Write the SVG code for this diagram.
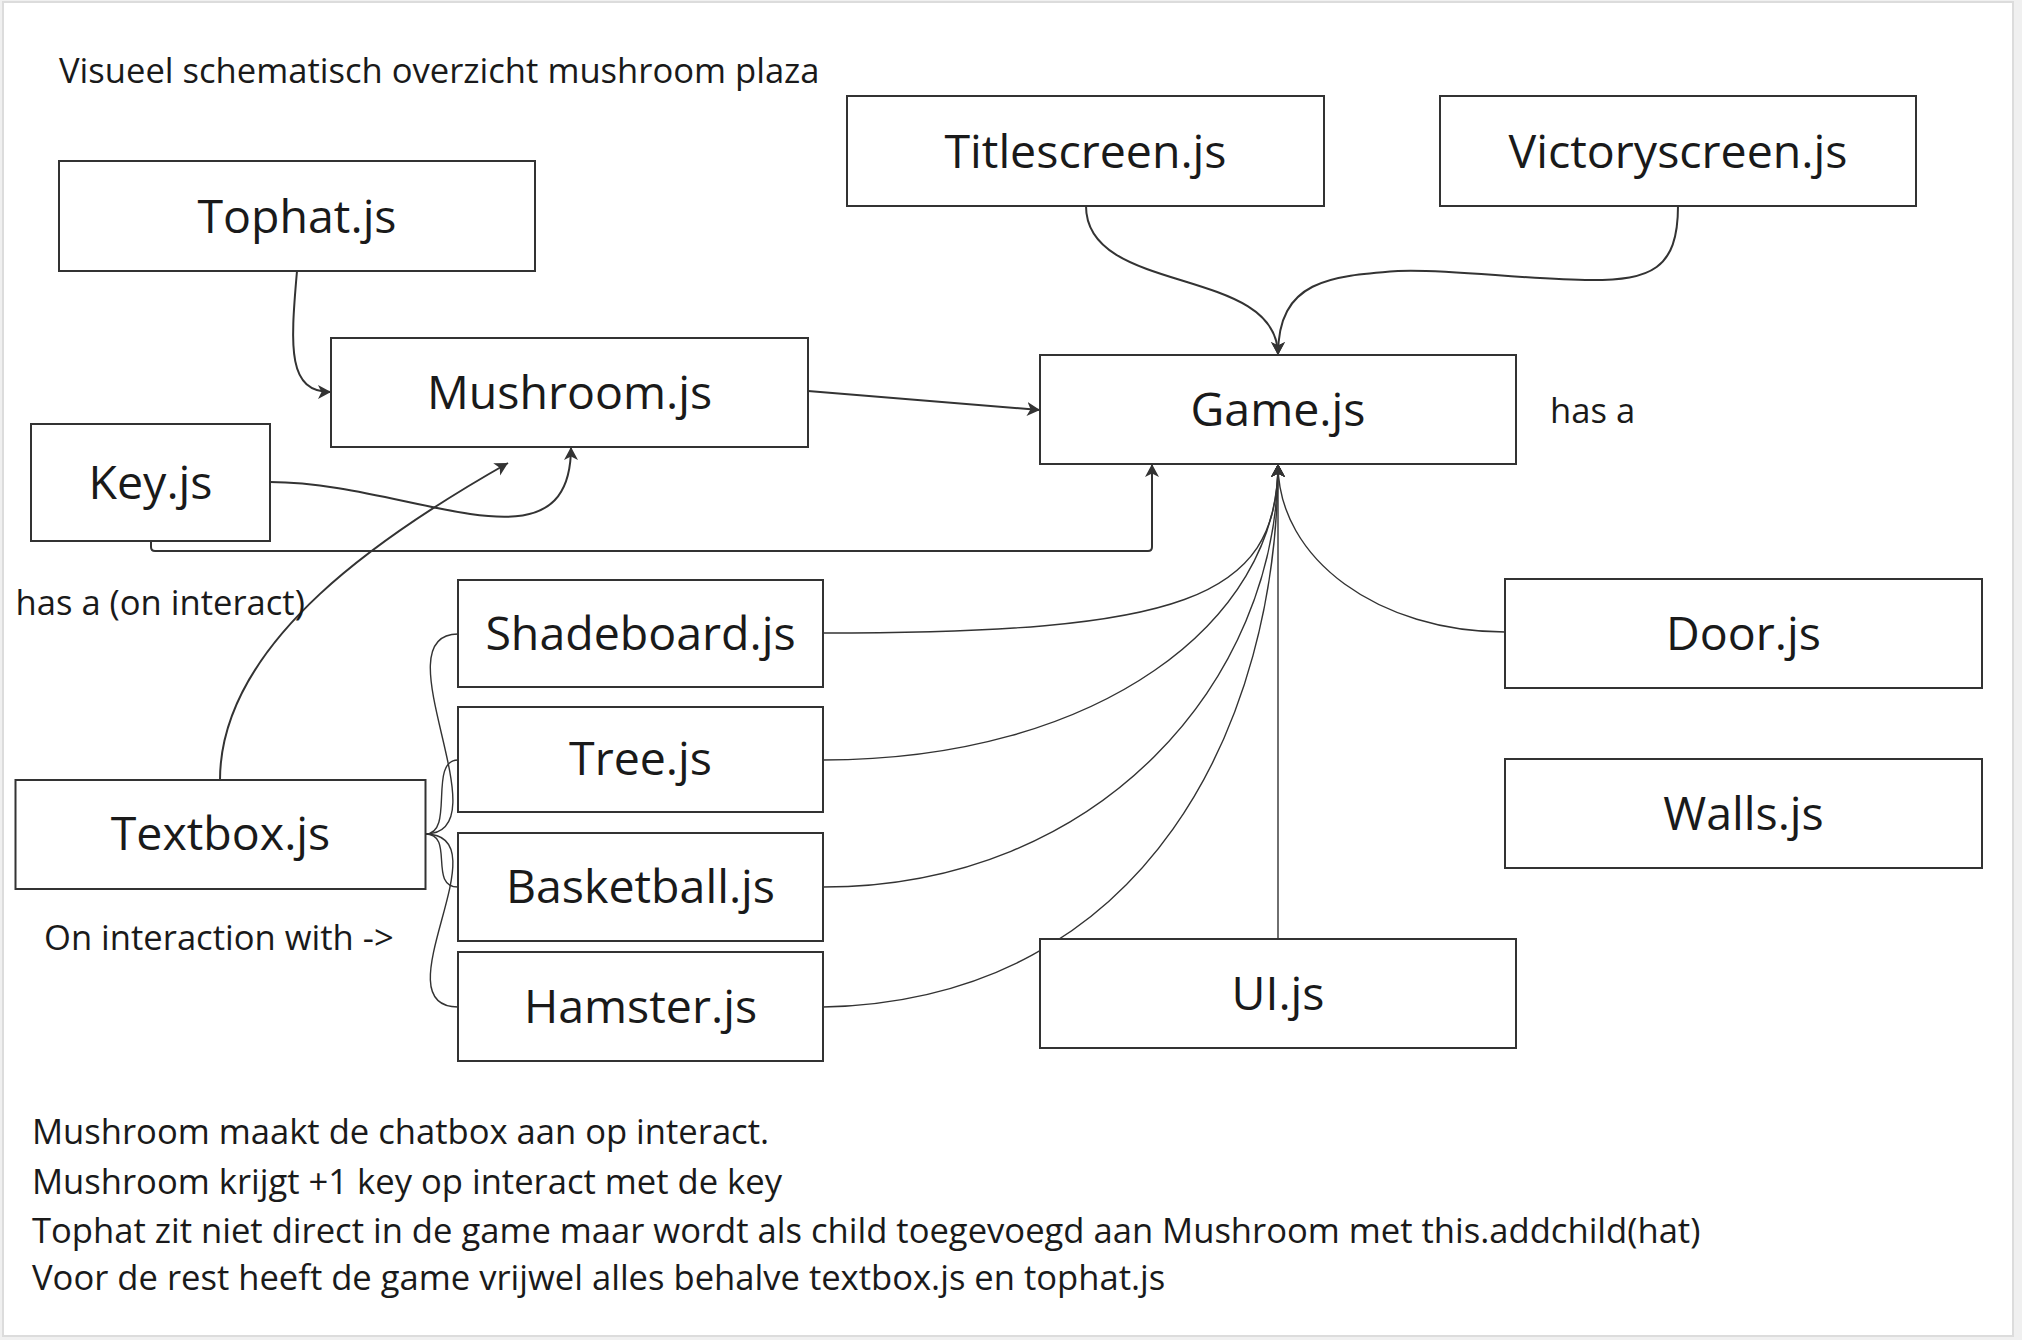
<svg xmlns="http://www.w3.org/2000/svg" width="2022" height="1340" viewBox="0 0 2022 1340">
<style>
.box{fill:#ffffff;stroke:#333333;stroke-width:2}
.lbl{font-family:"Open Sans","Liberation Sans",sans-serif;font-size:46.5px;fill:#1a1a1a;text-anchor:middle}
.txt{font-family:"Open Sans","Liberation Sans",sans-serif;font-size:34.6px;fill:#1a1a1a}
.c{fill:none;stroke:#333333;stroke-width:2}
.t{fill:none;stroke:#333333;stroke-width:1.4}
.a{marker-end:url(#arr)}
</style>
<defs>
<marker id="arr" markerUnits="userSpaceOnUse" markerWidth="16" markerHeight="16" refX="13" refY="7" orient="auto">
<path d="M0,0 L13,7 L0,14 L3.5,7 Z" fill="#333333"/>
</marker>
</defs>
<rect x="0" y="0" width="2022" height="1340" fill="#f0f0f0"/>
<rect x="3" y="2" width="2010" height="1334" fill="#ffffff" stroke="#dcdcdc" stroke-width="2"/>

<g id="connectors">
<path class="c a" d="M297,271 C290,350 288,392 331,392"/>
<path class="c a" d="M808,391 L1040,410"/>
<path class="c a" d="M151,541 L151,547 Q151,551 155,551 L1148,551 Q1152,551 1152,547 L1152,464"/>
<path class="c a" d="M270,482 C410,482 571,580 571,447"/>
<path class="c a" d="M220,780 C220,640 390,530 508,463"/>
<path class="c a" d="M1086,206 C1086,296 1278,265 1278,355"/>
<path class="c a" d="M1678,206 C1678,270 1650,280 1591,280 C1530,280 1440,268 1398,271 C1330,276 1278,280 1278,355"/>
<path class="t a" d="M823,633 C1180,633 1278,600 1278,464"/>
<path class="t a" d="M823,760 C1100,760 1278,620 1278,464"/>
<path class="t a" d="M823,887 C1100,887 1278,680 1278,464"/>
<path class="t a" d="M823,1007 C1150,1000 1278,720 1278,464"/>
<path class="t a" d="M1278,939 L1278,464"/>
<path class="t a" d="M1505,632 C1380,632 1278,560 1278,464"/>
<path class="t" d="M425.5,834 C505,834 378,634 458,634"/>
<path class="t" d="M425.5,834 C455,834 428,760 458,760"/>
<path class="t" d="M425.5,834 C455,834 428,887 458,887"/>
<path class="t" d="M425.5,834 C505,834 378,1007 458,1007"/>
</g>

<g id="tophat"><rect class="box" x="59" y="161" width="476" height="110"/><text class="lbl" x="297" y="233">Tophat.js</text></g>
<g id="titlescreen"><rect class="box" x="847" y="96" width="477" height="110"/><text class="lbl" x="1085.5" y="168">Titlescreen.js</text></g>
<g id="victoryscreen"><rect class="box" x="1440" y="96" width="476" height="110"/><text class="lbl" x="1678" y="168">Victoryscreen.js</text></g>
<g id="mushroom"><rect class="box" x="331" y="338" width="477" height="109"/><text class="lbl" x="569.5" y="409">Mushroom.js</text></g>
<g id="game"><rect class="box" x="1040" y="355" width="476" height="109"/><text class="lbl" x="1278" y="426">Game.js</text></g>
<g id="key"><rect class="box" x="31" y="424" width="239" height="117"/><text class="lbl" x="150.5" y="499">Key.js</text></g>
<g id="shadeboard"><rect class="box" x="458" y="580" width="365" height="107"/><text class="lbl" x="640.5" y="650">Shadeboard.js</text></g>
<g id="door"><rect class="box" x="1505" y="579" width="477" height="109"/><text class="lbl" x="1743.5" y="650">Door.js</text></g>
<g id="tree"><rect class="box" x="458" y="707" width="365" height="105"/><text class="lbl" x="640.5" y="775">Tree.js</text></g>
<g id="walls"><rect class="box" x="1505" y="759" width="477" height="109"/><text class="lbl" x="1743.5" y="830">Walls.js</text></g>
<g id="textbox"><rect class="box" x="15.5" y="780" width="410" height="109"/><text class="lbl" x="220.5" y="850">Textbox.js</text></g>
<g id="basketball"><rect class="box" x="458" y="833" width="365" height="108"/><text class="lbl" x="640.5" y="903">Basketball.js</text></g>
<g id="ui"><rect class="box" x="1040" y="939" width="476" height="109"/><text class="lbl" x="1278" y="1010">UI.js</text></g>
<g id="hamster"><rect class="box" x="458" y="952" width="365" height="109"/><text class="lbl" x="640.5" y="1023">Hamster.js</text></g>

<g id="notes">
<text class="txt" x="59" y="83">Visueel schematisch overzicht mushroom plaza</text>
<text class="txt" x="1550" y="423">has a</text>
<text class="txt" x="15.5" y="615">has a (on interact)</text>
<text class="txt" x="44" y="950">On interaction with -&gt;</text>
<text class="txt" x="32" y="1144">Mushroom maakt de chatbox aan op interact.</text>
<text class="txt" x="32" y="1193.5">Mushroom krijgt +1 key op interact met de key</text>
<text class="txt" x="32" y="1242.6">Tophat zit niet direct in de game maar wordt als child toegevoegd aan Mushroom met this.addchild(hat)</text>
<text class="txt" x="32" y="1290">Voor de rest heeft de game vrijwel alles behalve textbox.js en tophat.js</text>
</g>
</svg>
